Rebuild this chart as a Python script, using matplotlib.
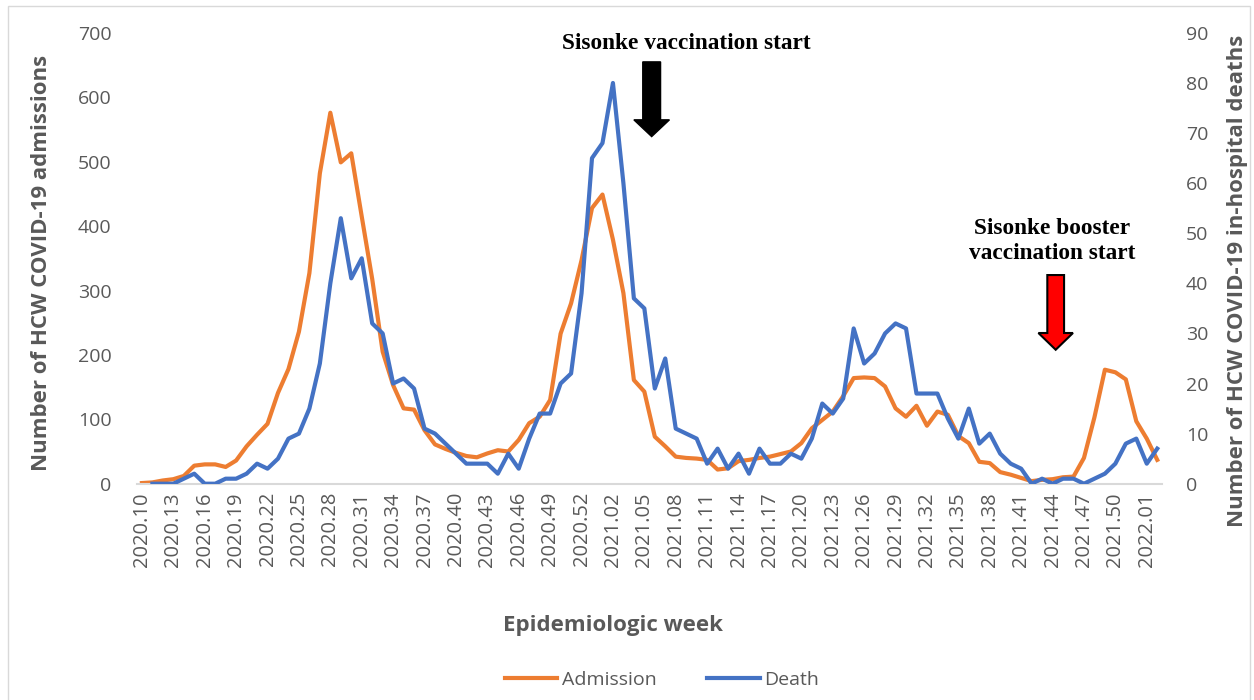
import numpy as np
import matplotlib.pyplot as plt
from matplotlib.patches import FancyArrow, Rectangle

plt.rcParams['font.family'] = ['Open Sans', 'DejaVu Sans']

# epidemiologic weeks 2020.10 .. 2022.02
weeks = ([f"2020.{w:02d}" for w in range(10, 54)] +
         [f"2021.{w:02d}" for w in range(1, 53)] +
         ["2022.01", "2022.02"])

admission = [1, 2, 5, 7, 12, 28, 30, 30, 26, 36,
             58, 76, 93, 141, 178, 236, 327, 482, 576, 499,
             513, 415, 318, 205, 153, 117, 115, 83, 61, 54,
             48, 43, 41, 47, 52, 50, 68, 94, 104, 130,
             233, 280, 347, 428, 449, 379, 296, 161, 143, 73,
             58, 42, 40, 39, 37, 22, 24, 35, 37, 40,
             42, 46, 50, 63, 86, 99, 112, 136, 164, 165,
             164, 151, 117, 104, 121, 90, 112, 107, 74, 63,
             34, 32, 18, 14, 9, 4, 6, 7, 10, 11,
             40, 103, 177, 173, 162, 97, 70, 37]

death = [np.nan, 0, 0, 0, 1, 2, 0, 0, 1, 1,
         2, 4, 3, 5, 9, 10, 15, 24, 40, 53,
         41, 45, 32, 30, 20, 21, 19, 11, 10, 8,
         6, 4, 4, 4, 2, 6, 3, 9, 14, 14,
         20, 22, 38, 65, 68, 80, 60, 37, 35, 19,
         25, 11, 10, 9, 4, 7, 3, 6, 2, 7,
         4, 4, 6, 5, 9, 16, 14, 17, 31, 24,
         26, 30, 32, 31, 18, 18, 18, 13, 9, 15,
         8, 10, 6, 4, 3, 0, 1, 0, 1, 1,
         0, 1, 2, 4, 8, 9, 4, 7]

grey = '#595959'
orange = '#ED7D31'
blue = '#4472C4'

fig = plt.figure(figsize=(12.54, 7), dpi=100)
ax = fig.add_axes([0.109, 0.309, 0.818, 0.644])
ax2 = ax.twinx()

x = np.arange(len(weeks))
ax.plot(x, admission, color=orange, lw=3.0, label='Admission', solid_joinstyle='round')
ax2.plot(x, death, color=blue, lw=3.0, label='Death', solid_joinstyle='round')

ax.set_xlim(-0.5, len(weeks) - 0.5)
ax.set_ylim(0, 700)
ax2.set_ylim(0, 90)
ax.set_yticks(range(0, 701, 100))
ax2.set_yticks(range(0, 91, 10))
ax.set_xticks(x[::3])
ax.set_xticklabels(weeks[::3], rotation=90)

for a in (ax, ax2):
    for s in a.spines.values():
        s.set_visible(False)
ax.spines['bottom'].set_visible(True)
ax.spines['bottom'].set_color('#d9d9d9')
ax.spines['bottom'].set_linewidth(1.5)

ax.tick_params(axis='x', length=0, colors=grey, labelsize=14.5, pad=6)
ax.tick_params(axis='y', length=0, colors=grey, labelsize=14, pad=18)
ax2.tick_params(axis='y', length=0, colors=grey, labelsize=14, pad=17)

ax.set_ylabel('Number of HCW COVID-19 admissions', fontsize=16, fontweight='bold', color=grey)
ax.yaxis.set_label_coords(-0.083, 0.49)
ax2.set_ylabel('Number of HCW COVID-19 in-hospital deaths', fontsize=16, fontweight='bold', color=grey,
               rotation=90)
ax2.yaxis.set_label_coords(1.063, 0.45)
ax.set_xlabel('Epidemiologic week', fontsize=16, fontweight='bold', color=grey)
ax.xaxis.set_label_coords(0.464, -0.292)

# vaccination arrows
ax.add_patch(FancyArrow(48.7, 655, 0, -116, width=1.7, head_width=3.4, head_length=26,
                        length_includes_head=True, facecolor='black', edgecolor='black'))
ax.text(52.0, 684, 'Sisonke vaccination start', ha='center', va='center', fontsize=16.8,
        fontweight='bold', family=['Liberation Serif'], color='black')

ax.add_patch(FancyArrow(87.3, 324, 0, -116, width=1.6, head_width=3.3, head_length=26,
                        length_includes_head=True, facecolor='#ff0000', edgecolor='black', lw=1.5))
ax.text(87.0, 377, 'Sisonke booster\nvaccination start', ha='center', va='center', fontsize=16.8,
        fontweight='bold', family=['Liberation Serif'], color='black', linespacing=1.2)

h1, l1 = ax.get_legend_handles_labels()
h2, l2 = ax2.get_legend_handles_labels()
fig.legend(h1 + h2, l1 + l2, loc='center', bbox_to_anchor=(662 / 1254, 1 - 680 / 700), ncol=2,
           frameon=False, fontsize=14, handlelength=2.7, handletextpad=0.25, columnspacing=2.6,
           labelcolor=grey)

fig.patches.append(Rectangle((8 / 1254, -0.01), 1242 / 1254, 1.01 - 6 / 700, transform=fig.transFigure,
                             fill=False, edgecolor='#d9d9d9', lw=1))

fig.savefig('out.png', dpi=100)
